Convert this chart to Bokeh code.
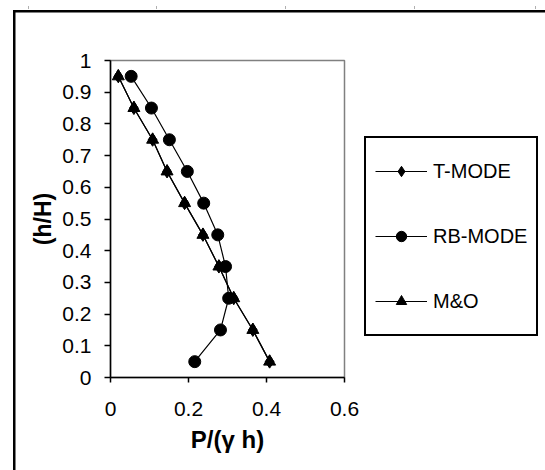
from bokeh.plotting import figure
from bokeh.models import Legend, LegendItem, Range1d, FixedTicker
from bokeh.embed import file_html
from bokeh.resources import INLINE

# data
h_ratio = [0.95, 0.85, 0.75, 0.65, 0.55, 0.45, 0.35, 0.25, 0.15, 0.05]
t_mode = [0.02, 0.06, 0.108, 0.145, 0.19, 0.237, 0.278, 0.316, 0.365, 0.408]
rb_mode = [0.053, 0.105, 0.151, 0.197, 0.239, 0.275, 0.295, 0.303, 0.282, 0.216]
m_and_o = [0.02, 0.06, 0.108, 0.145, 0.19, 0.237, 0.278, 0.316, 0.365, 0.408]
x_ticks = [0, 0.2, 0.4, 0.6]
y_ticks = [0, 0.1, 0.2, 0.3, 0.4, 0.5, 0.6, 0.7, 0.8, 0.9, 1]

FONT = "Liberation Sans"

p = figure(frame_width=234, frame_height=317,
           min_border_left=110, min_border_right=201,
           min_border_top=60, min_border_bottom=93,
           x_range=Range1d(0, 0.6), y_range=Range1d(0, 1),
           output_backend="svg", toolbar_location=None)

p.xgrid.visible = False
p.ygrid.visible = False
p.outline_line_color = "#808080"
p.outline_line_width = 1.5
p.background_fill_color = "white"
p.border_fill_color = None

# outer chart-area frame (left and top edges) and faint marks above it
bg = ["linear-gradient(black, black)", "linear-gradient(black, black)"]
sizes = ["2.5px 100%", "100% 2.5px"]
pos = ["12.5px 9.5px", "12.5px 9.5px"]
for tx in [28, 156, 285, 414, 535]:
    bg.append("linear-gradient(#b0b0b0, #b0b0b0)")
    sizes.append("1px 3px")
    pos.append(f"{tx}px 6px")
p.styles = {
    "background-color": "white",
    "background-image": ", ".join(bg),
    "background-size": ", ".join(sizes),
    "background-position": ", ".join(pos),
    "background-repeat": "no-repeat",
}

for ax in (p.xaxis[0], p.yaxis[0]):
    ax.axis_line_color = "black"
    ax.axis_line_width = 1.5
    ax.major_tick_line_color = "black"
    ax.major_tick_line_width = 1.5
    ax.major_tick_in = 0
    ax.minor_tick_line_color = None
    ax.major_label_text_font = FONT
    ax.major_label_text_font_size = "21px"
    ax.major_label_text_color = "black"
    ax.axis_label_text_font = FONT
    ax.axis_label_text_font_size = "23px"
    ax.axis_label_text_font_style = "bold"
    ax.axis_label_text_color = "black"

p.xaxis.ticker = FixedTicker(ticks=x_ticks)
p.yaxis.ticker = FixedTicker(ticks=y_ticks)
p.xaxis.major_tick_out = 5
p.yaxis.major_tick_out = 6
p.xaxis.major_label_standoff = 19
p.yaxis.major_label_standoff = 13
p.xaxis.axis_label = "P/(γ h)"
p.yaxis.axis_label = "(h/H)"
p.xaxis.axis_label_text_font_size = "24px"
p.xaxis.axis_label_standoff = 7
p.yaxis.axis_label_standoff = 3

lw = 1.2
t_line = p.line(t_mode, h_ratio, line_color="black", line_width=lw)
t_sc = p.scatter(t_mode, h_ratio, marker="diamond", size=13, color="black")
rb_line = p.line(rb_mode, h_ratio, line_color="black", line_width=lw)
rb_sc = p.scatter(rb_mode, h_ratio, marker="circle", size=12, color="black")
mo_line = p.line(m_and_o, h_ratio, line_color="black", line_width=lw)
mo_sc = p.scatter(m_and_o, h_ratio, marker="triangle", size=12, color="black")

legend = Legend(items=[
    LegendItem(label="T-MODE", renderers=[t_line, t_sc]),
    LegendItem(label="RB-MODE", renderers=[rb_line, rb_sc]),
    LegendItem(label="M&O", renderers=[mo_line, mo_sc]),
], location=(20, 41), padding=9, spacing=17, glyph_width=52, glyph_height=26,
    label_height=48, label_standoff=6, margin=0,
    border_line_color="black", border_line_width=2, border_line_alpha=1,
    background_fill_color="white", background_fill_alpha=1,
    label_text_font=FONT, label_text_font_size="20px", label_text_color="black")
p.add_layout(legend, "right")

open("out.html", "w").write(file_html(p, INLINE))
